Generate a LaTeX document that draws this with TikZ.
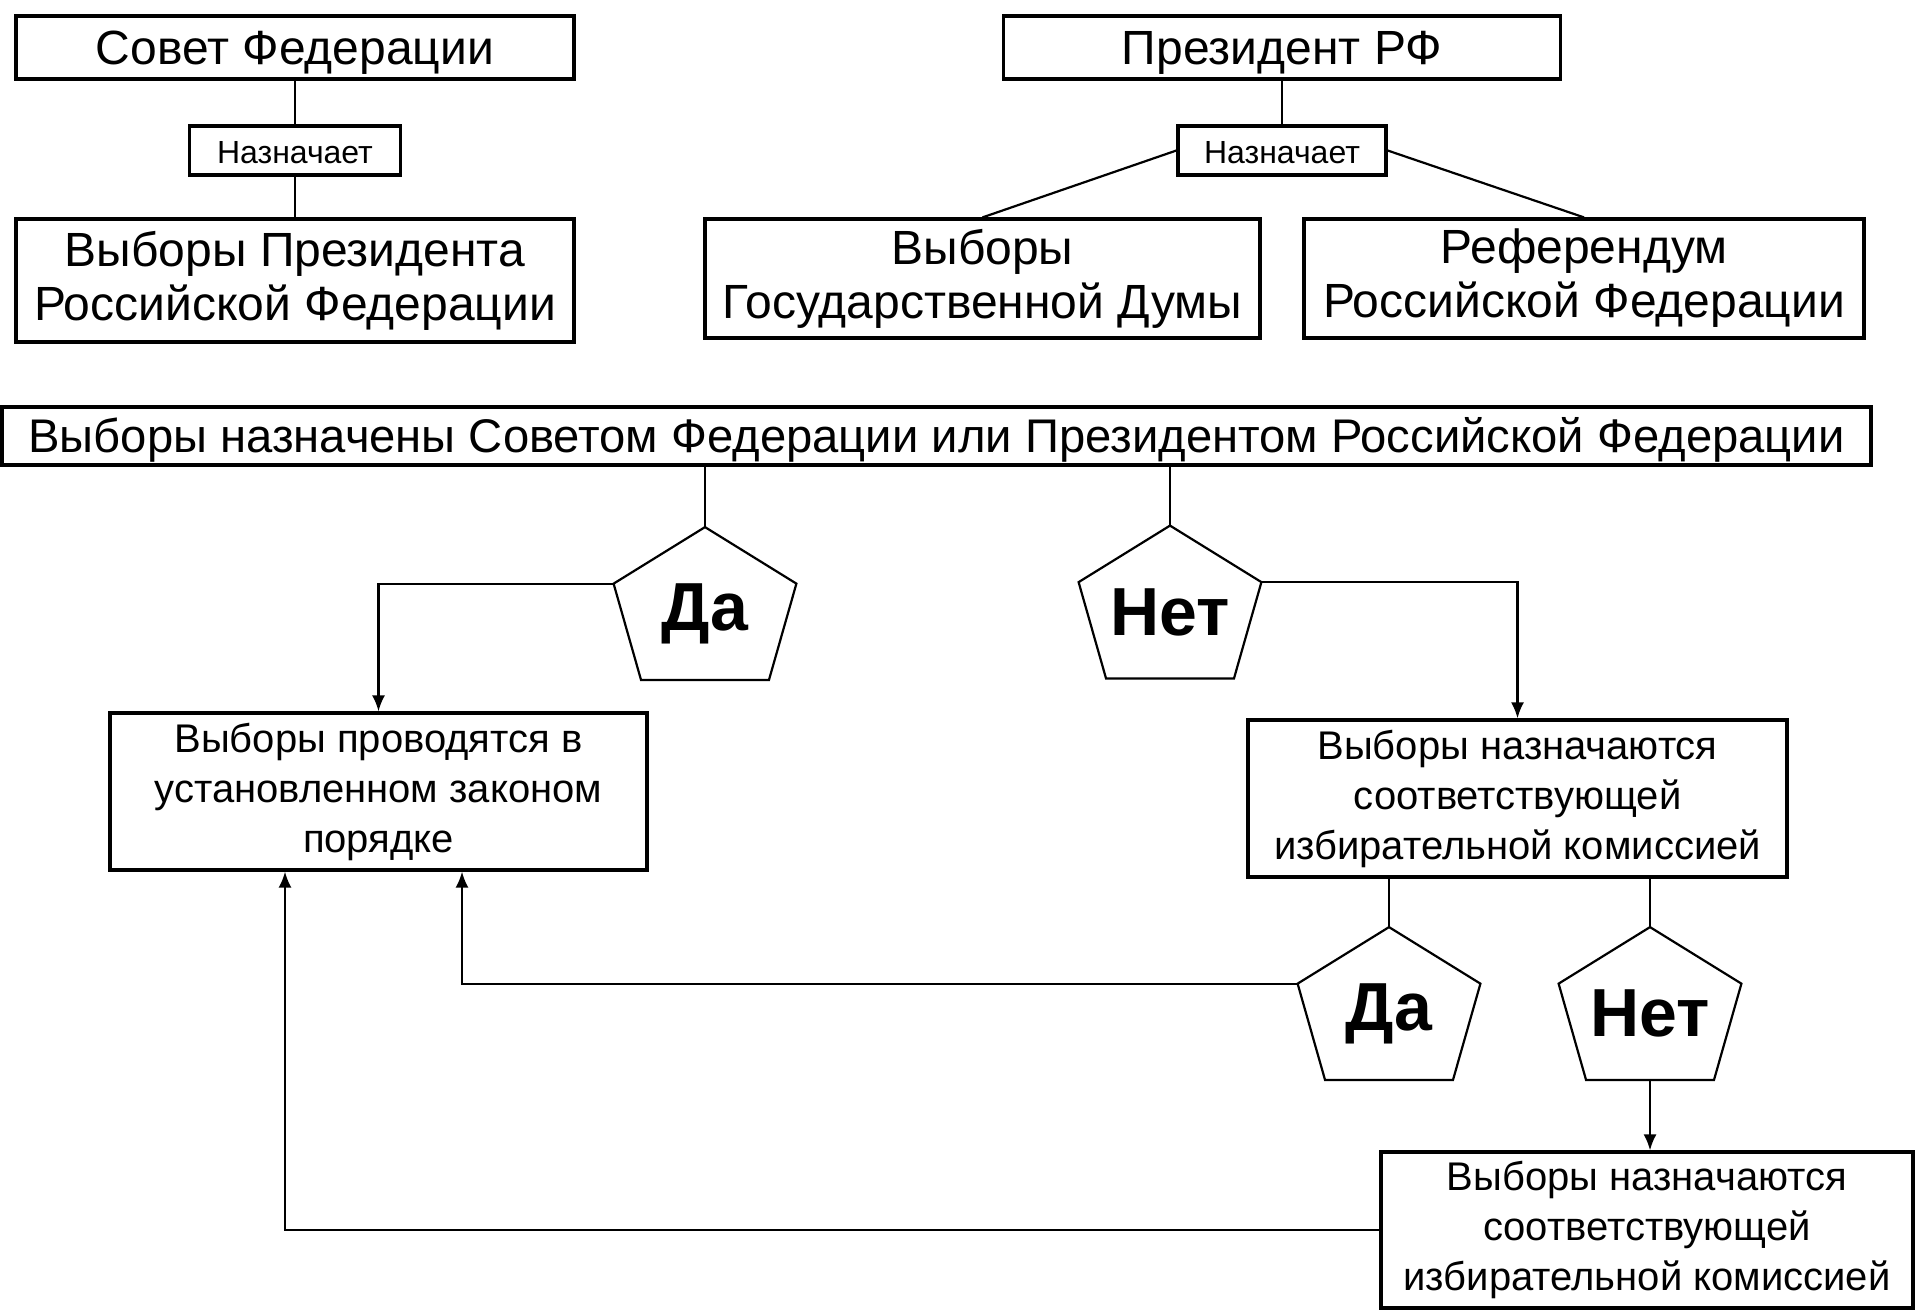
\documentclass[tikz,border=0pt]{standalone}
\usepackage{fontspec}
\setmainfont{Liberation Sans}
\usetikzlibrary{calc,arrows.meta}
\newcommand\drawpent[1]{%
  \path (#1.north west) -- (#1.south west) coordinate[pos=0.37] (#1-l);
  \path (#1.north east) -- (#1.south east) coordinate[pos=0.37] (#1-r);
  \draw[conn,line join=miter] (#1.north) -- (#1-r) -- ($(#1.south)!0.7!(#1.south east)$)
     -- ($(#1.south)!0.7!(#1.south west)$) -- (#1-l) -- cycle;
}
\newcommand\lowtxt[2]{\raisebox{-#1}[\height][\depth]{#2}}
\begin{document}
\begin{tikzpicture}[x=0.5pt,y=-0.5pt,
  box/.style={draw,line width=1.6pt,inner sep=0pt,align=center,font=\fontsize{24}{27}\selectfont},
  nbox/.style={box,font=\fontsize{16}{18}\selectfont},
  cbox/.style={box,font=\fontsize{20}{25}\selectfont},
  pent/.style={inner sep=0pt,minimum width=91pt,minimum height=76pt,font=\fontsize{34}{34}\selectfont\bfseries},
  conn/.style={line width=1.1pt},
  arr/.style={conn,-{Latex[length=8pt,width=6.5pt]}}]
\useasboundingbox (0,0) rectangle (1915,1310);

% top left
\node[box,minimum width=279pt,minimum height=31.5pt] (sf) at (295,47.5) {\lowtxt{2.5pt}{Совет Федерации}};
\node[nbox,minimum width=105.5pt,minimum height=24.5pt] (nazL) at (295,150.5) {\lowtxt{1pt}{Назначает}};
\node[box,minimum width=279pt,minimum height=61.5pt] (vpr) at (295,280.5) {Выборы Президента\\Российской Федерации};

% top right
\node[box,minimum width=278.5pt,minimum height=31.5pt] (prez) at (1282,47.5) {\lowtxt{2.5pt}{Президент РФ}};
\node[nbox,minimum width=104pt,minimum height=24.5pt] (nazR) at (1282,150.5) {\lowtxt{1pt}{Назначает}};
\node[box,minimum width=277.5pt,minimum height=59.5pt] (vgd) at (982.5,278.5) {Выборы\\Государственной Думы};
\node[box,minimum width=280pt,minimum height=59.5pt] (ref) at (1584,278.5) {Референдум\\Российской Федерации};

% big box
\node[box,minimum width=934.5pt,minimum height=29pt,font=\fontsize{23.6}{27}\selectfont] (big) at (936.5,436) {\lowtxt{2pt}{Выборы назначены Советом Федерации или Президентом Российской Федерации}};

% pentagons
\node[pent] (da1) at (705,603.5) {\lowtxt{5pt}{Да}};
\node[pent] (net1) at (1170,602) {\lowtxt{5pt}{Нет}};
\node[pent] (da2) at (1389,1003.5) {\lowtxt{5pt}{Да}};
\node[pent] (net2) at (1650,1003.5) {\lowtxt{5pt}{Нет}};
\drawpent{da1}
\drawpent{net1}
\drawpent{da2}
\drawpent{net2}

% result boxes
\node[cbox,minimum width=268.5pt,minimum height=78.5pt] (por) at (378.5,791.5) {Выборы проводятся в\\установленном законом\\порядке};
\node[cbox,minimum width=269.5pt,minimum height=78.5pt] (kom1) at (1517.5,798.5) {Выборы назначаются\\соответствующей\\избирательной комиссией};
\node[cbox,minimum width=266pt,minimum height=78pt] (kom2) at (1647,1230) {Выборы назначаются\\соответствующей\\избирательной комиссией};

\coordinate (porR) at ($(por.south)+(83.5,0)$);
\coordinate (porL) at ($(por.south)+(-93.5,0)$);

% connectors
\draw[conn] (sf) -- (nazL) -- (vpr);
\draw[conn] (prez) -- (nazR);
\draw[conn] (nazR.west) -- (vgd.north);
\draw[conn] (nazR.east) -- (ref.north);
\draw[conn] (da1.north |- big.south) -- (da1.north);
\draw[conn] (net1.north |- big.south) -- (net1.north);
\draw[arr] (da1-l) -| (por.north);
\draw[arr] (net1-r) -| (kom1.north);
\draw[conn] (da2.north |- kom1.south) -- (da2.north);
\draw[conn] (net2.north |- kom1.south) -- (net2.north);
\draw[arr] (net2.south) -- (net2.south |- kom2.north);
\draw[arr] (da2-l) -| (porR);
\draw[arr] (kom2.west) -| (porL);
\end{tikzpicture}
\end{document}
